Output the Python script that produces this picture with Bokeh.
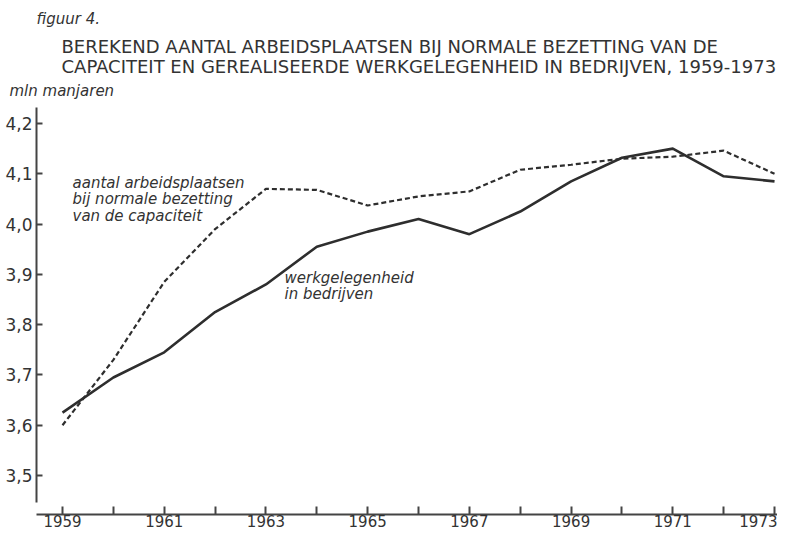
from bokeh.plotting import figure
from bokeh.models import Label, FixedTicker, CustomJSTickFormatter, Range1d
from bokeh.embed import file_html
from bokeh.resources import INLINE

# ---- data ----
years = list(range(1959, 1974))
werkgelegenheid = [3.625, 3.695, 3.745, 3.825, 3.88, 3.955, 3.985, 4.01,
                   3.98, 4.025, 4.085, 4.132, 4.15, 4.095, 4.085]
arbeidsplaatsen = [3.60, 3.73, 3.885, 3.99, 4.07, 4.068, 4.037, 4.055,
                   4.065, 4.108, 4.118, 4.13, 4.134, 4.146, 4.10]
x_label_years = [1959, 1961, 1963, 1965, 1967, 1969, 1971, 1973]
x_minor_years = [1960, 1962, 1964, 1966, 1968, 1970, 1972]
y_ticks = [3.5, 3.6, 3.7, 3.8, 3.9, 4.0, 4.1, 4.2]

title_1 = "BEREKEND AANTAL ARBEIDSPLAATSEN BIJ NORMALE BEZETTING VAN DE"
title_2 = "CAPACITEIT  EN GEREALISEERDE WERKGELEGENHEID IN BEDRIJVEN, 1959-1973"
fig_label = "figuur 4."
unit_label = "mln manjaren"
ann_capacity = ["aantal arbeidsplaatsen", "bij normale bezetting", "van de capaciteit"]
ann_work = ["werkgelegenheid", "in bedrijven"]

# ---- layout helpers (page pixel -> data) ----
W, H = 777, 533
OX, OY = 1, 1                          # observed canvas origin in the picture
X0_PX, X_PER_YEAR = 63.0, 50.86        # picture x of 1959, px per year
Y42_PX, Y_PER_UNIT = 124.0, 502.9      # picture y of 4.2, px per 1.0

def dx(px):
    return 1959 + (px - X0_PX) / X_PER_YEAR

def dy(py):
    return 4.2 - (py - Y42_PX) / Y_PER_UNIT

INK = "#2e2e2e"
AXIS = "#444444"
TEXT = "#333333"

p = figure(width=W, height=H, output_backend="svg", toolbar_location=None,
           x_range=Range1d(dx(OX), dx(OX + W)), y_range=Range1d(dy(OY + H), dy(OY)),
           min_border_left=0, min_border_right=0, min_border_top=0,
           min_border_bottom=0, background_fill_color="white",
           border_fill_color="white")
p.outline_line_color = None
p.xgrid.visible = False
p.ygrid.visible = False

p.line(years, werkgelegenheid, line_color=INK, line_width=2.6)
p.line(years, arbeidsplaatsen, line_color=INK, line_width=2.2, line_dash="5 3")

# x axis
xa = p.xaxis[0]
xa.fixed_location = dy(515)
xa.bounds = (dx(37), dx(OX + W))
xa.ticker = FixedTicker(ticks=x_label_years, minor_ticks=x_minor_years)
xa.major_tick_in = 8
xa.major_tick_out = 0
xa.minor_tick_in = 8
xa.minor_tick_out = 0
xa.axis_line_width = 2
xa.axis_line_color = AXIS
xa.major_tick_line_color = AXIS
xa.minor_tick_line_color = AXIS
xa.major_tick_line_width = 2
xa.minor_tick_line_width = 2
xa.major_label_standoff = 0
xa.major_label_text_font = "DejaVu Sans"
xa.major_label_text_font_size = "15px"
xa.major_label_text_color = TEXT

# y axis
ya = p.yaxis[0]
ya.fixed_location = dx(37)
ya.ticker = FixedTicker(ticks=y_ticks, minor_ticks=[])
ya.formatter = CustomJSTickFormatter(code="return tick.toFixed(1).replace('.', ',');")
ya.bounds = (dy(503), dy(108))
ya.major_tick_in = 6
ya.major_tick_out = 0
ya.minor_tick_in = 0
ya.minor_tick_out = 0
ya.axis_line_width = 2
ya.axis_line_color = AXIS
ya.major_tick_line_color = AXIS
ya.major_tick_line_width = 2
ya.major_label_standoff = 4
ya.major_label_text_font = "DejaVu Sans"
ya.major_label_text_font_size = "17px"
ya.major_label_text_color = TEXT

def add_text(txt, px, py, size, style="normal"):
    p.add_layout(Label(x=dx(px), y=dy(py), text=txt, text_font="DejaVu Sans",
                       text_font_size=size, text_font_style=style,
                       text_color=TEXT, text_baseline="top", text_align="left"))

add_text(fig_label, 37, 10, "15px", "italic")
add_text(title_1, 62, 36, "18px")
add_text(title_2, 62, 56, "18px")
add_text(unit_label, 10, 82, "15px", "italic")
for i, t in enumerate(ann_capacity):
    add_text(t, 73, 174 + i * 16.5, "15px", "italic")
for i, t in enumerate(ann_work):
    add_text(t, 285, 269 + i * 16, "15px", "italic")

open("out.html", "w").write(file_html(p, INLINE))
